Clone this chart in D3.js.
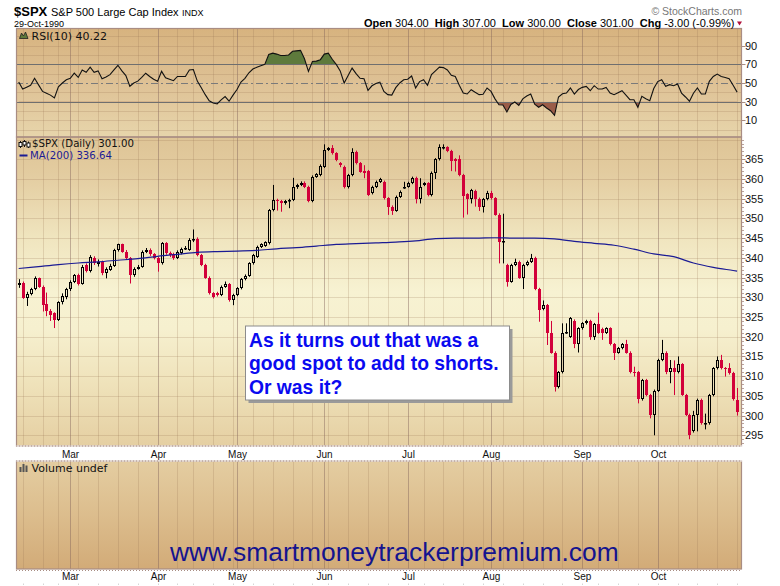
<!DOCTYPE html>
<html><head><meta charset="utf-8">
<script src="https://cdn.jsdelivr.net/npm/d3@7"></script>
<style>body{margin:0;background:#fff}svg{display:block}</style>
</head><body><svg id="c" width="780" height="586"></svg>
<script>
// ---------- DATA ----------
const startDate = "1990-02-09", endDate = "1990-10-29";
const holidays = ["1990-02-19","1990-04-13","1990-05-28","1990-07-04","1990-09-03"];

const opens = [
333.0,333.6,329.9,330.9,332.1,334.8,332.7,328.4,326.5,325.9,
324.2,328.8,330.0,332.1,334.0,335.7,333.5,338.2,336.7,340.0,
338.4,339.0,336.1,337.0,338.0,342.0,343.4,341.6,339.9,335.7,
337.3,337.8,341.6,342.0,340.9,340.0,338.6,343.7,341.2,341.0,
340.0,341.2,342.3,342.0,344.5,344.8,340.7,338.2,335.0,331.0,
331.0,330.6,332.7,333.3,329.2,330.6,332.3,334.6,335.5,338.6,
340.3,342.8,343.1,343.7,352.1,354.7,354.4,353.8,354.4,354.7,
358.0,358.5,359.1,358.0,354.4,360.6,361.0,363.1,367.4,367.8,
366.5,364.0,363.1,357.9,361.0,366.9,364.0,362.0,362.0,356.4,
358.0,359.3,359.3,355.1,353.0,352.0,355.5,357.8,358.1,359.0,
360.3,354.9,358.5,358.9,355.9,361.6,365.0,367.8,368.0,367.1,
365.0,365.0,361.0,356.1,355.0,357.0,355.0,353.0,354.9,356.4,
355.1,351.0,343.9,338.2,334.0,338.2,339.0,335.0,338.2,339.0,
340.0,332.1,327.0,328.0,321.0,316.0,307.2,311.0,321.0,320.0,
324.1,318.1,322.1,323.4,324.0,320.0,323.2,322.0,321.0,322.1,
318.1,316.0,317.1,318.1,316.0,311.0,311.0,304.1,309.0,305.2,
300.2,306.3,314.1,316.0,311.0,312.0,311.0,313.0,305.2,300.2,
296.0,300.2,304.0,298.0,298.0,305.2,312.0,314.1,312.0,312.0,
310.8,304.0];
const highs = [
334.6,334.0,331.4,332.4,335.3,335.0,333.0,331.2,327.0,326.2,
329.0,331.0,332.4,334.3,335.9,336.0,338.2,338.6,340.7,340.4,
339.6,339.3,337.6,338.5,342.3,343.6,343.6,342.0,340.2,337.6,
338.2,341.9,342.5,342.4,341.2,340.3,344.0,344.0,341.6,341.3,
341.9,342.6,343.0,345.0,347.2,345.2,341.0,338.5,335.3,331.3,
331.4,333.0,334.0,333.6,330.9,332.6,334.9,335.8,338.9,341.0,
343.1,343.7,344.2,352.4,358.5,355.0,354.7,354.7,355.0,360.3,
358.8,359.4,359.4,358.3,360.9,361.5,363.7,368.8,368.1,368.6,
366.8,364.3,363.4,361.3,367.8,367.2,364.3,363.5,362.3,358.3,
359.6,360.3,359.6,355.4,353.3,355.8,357.1,359.3,359.3,360.6,
360.6,360.2,359.2,359.2,361.9,365.3,368.8,368.8,368.3,367.4,
365.3,366.0,361.3,356.4,357.5,357.3,355.3,355.2,357.0,357.0,
355.4,351.3,351.2,338.5,338.5,339.8,339.3,338.5,339.3,341.0,
340.3,332.4,329.2,328.3,324.0,316.3,311.3,323.4,323.4,325.0,
324.4,322.4,323.7,324.3,324.3,323.5,326.1,322.3,322.4,322.4,
318.4,317.4,318.4,319.2,316.3,312.4,311.3,309.3,309.3,305.5,
306.6,314.4,319.2,316.3,314.1,314.0,315.0,313.3,305.5,300.5,
301.2,304.3,304.3,300.5,305.5,312.3,315.0,315.4,312.3,313.3,
311.1,307.0];
const lows = [
332.4,329.6,327.8,330.5,331.8,332.4,326.4,325.2,324.0,322.2,
324.0,328.2,329.5,331.6,333.6,333.0,333.2,336.3,336.3,338.2,
337.8,335.6,334.8,336.7,337.7,341.6,341.3,339.5,333.5,335.2,
337.0,337.5,341.2,340.5,339.6,336.5,338.3,340.8,340.2,339.5,
339.7,340.9,342.0,341.8,344.0,340.4,337.9,334.7,330.7,329.7,
330.2,330.3,332.4,328.9,328.0,330.3,332.0,334.3,335.2,338.3,
340.0,342.5,342.8,343.4,351.8,352.0,351.7,353.5,352.6,354.4,
357.5,358.2,357.7,354.1,354.1,360.3,360.7,362.8,367.1,366.2,
364.5,363.0,357.6,357.6,360.7,363.7,361.6,360.2,355.7,356.1,
357.7,359.0,354.8,350.9,350.9,351.7,355.2,357.5,357.8,358.7,
353.8,353.8,358.2,355.6,355.6,360.0,364.7,367.5,366.8,362.0,
361.9,360.7,350.2,351.0,353.8,353.0,351.9,351.5,354.6,354.8,
350.7,338.6,338.6,332.7,333.7,337.9,334.7,332.1,337.9,338.7,
331.8,323.8,326.7,317.9,315.7,306.1,306.9,310.7,320.7,319.7,
317.1,316.0,321.8,323.1,319.2,319.2,320.7,319.2,320.7,317.8,
314.1,315.7,316.8,315.7,310.7,309.9,303.1,303.8,304.9,299.3,
295.0,306.0,313.8,310.5,308.2,305.2,310.7,305.0,299.9,294.0,
295.7,296.0,297.7,296.5,297.7,304.9,311.7,311.7,309.9,310.4,
303.8,300.0];
const closes = [
333.6,329.9,330.9,332.1,334.8,332.7,328.0,326.5,325.6,324.2,
328.8,330.4,332.1,334.0,335.7,333.5,337.8,336.7,340.1,338.6,
339.0,336.1,337.2,338.0,342.0,343.4,341.6,339.9,335.7,337.3,
337.8,341.6,342.0,340.9,340.0,338.6,343.7,341.2,340.7,340.0,
341.6,342.3,342.6,344.5,344.8,340.7,338.2,335.0,331.0,330.2,
330.6,332.7,333.5,329.2,330.6,332.3,334.6,335.5,338.6,340.7,
342.8,343.4,343.9,352.1,354.7,354.3,353.8,354.4,354.7,358.0,
358.5,359.1,358.0,354.4,360.6,361.2,363.4,367.4,367.8,366.5,
364.8,363.5,357.9,361.0,366.9,364.0,361.9,361.5,356.0,358.0,
359.3,360.0,355.1,353.0,352.0,355.5,356.8,358.1,359.0,360.3,
354.9,357.9,358.9,355.9,361.6,365.0,368.0,368.1,367.1,364.6,
364.5,361.0,355.7,355.0,357.2,355.0,353.0,354.9,356.4,355.1,
351.0,343.9,344.3,334.0,338.2,339.0,335.0,338.2,339.0,340.0,
332.1,326.8,328.0,321.0,316.0,307.2,311.0,321.0,321.2,324.7,
318.1,322.1,323.4,324.0,320.0,323.2,321.0,321.0,322.1,318.1,
316.0,317.1,318.1,316.0,311.0,310.8,304.1,309.0,305.2,300.2,
306.3,314.1,316.0,311.0,312.0,311.0,313.0,305.2,300.2,295.1,
300.2,304.0,298.0,298.2,305.2,312.0,314.1,312.0,311.8,310.7,
304.1,301.0];
const rsiValues = [
51,43.5,45.5,47.5,55,48,41,39,37,34,
46,50,53.5,55,60.5,56,64,61.5,67,61.5,
63,54.5,56.5,59,64,69,63,58,46.5,50,
52,56,60.5,57,54,52,62.5,55.5,54,52.5,
57,57,57,64,64.5,52,45,37.5,31,28.5,
27.5,32,35.5,30.5,37,43,51,55,61,65,
67,68.5,70,80.5,82,81,79.5,79.5,80,84,
84.5,85,76,62.5,73,73.5,75,81,82,75.5,
70,63,50,58,66,60,55,54.5,42,47,
49.5,51,41,37.5,37,45,50,53.5,54,57.5,
44.6,51.5,53.5,47.5,59,63,67,66.5,64,58.2,
57,47.5,39.2,38.2,42.8,40,37.5,38,44.6,41,
33,26.7,26.5,19,27,29.6,26,33,36,38.2,
27.4,24,26.7,23.2,20.3,15.3,35,38.5,39.2,44.6,
38.2,43,45.3,46.4,41.7,47.1,43.5,43.5,45.3,39.2,
37.4,39.5,41.7,37,32.1,32,23.9,35.7,33.2,31,
44,51.5,53.5,46.4,48.2,47.1,48.9,39.2,35,30.5,
39,44.6,38.2,38.2,51.8,57,59.6,57,56,54.6,
47.5,40.22];
// 200-day moving average read at sampled trading-day positions
const maIndex  = [0,5,10,15,20,25,30,35,40,45,50,55,60,65,70,75,80,85,90,95,100,105,110,115,120,125,130,135,140,145,150,155,160,165,170,175,180,181];
const maValues = [337.3,337.8,338.3,338.7,339.0,339.4,339.8,340.4,340.9,341.4,341.6,341.7,341.9,342.3,342.6,343.0,343.4,343.6,343.8,344.0,344.3,344.9,345.0,345.0,345.1,345.0,345.0,344.8,344.2,343.7,343.2,342.2,341.0,340.3,338.7,337.6,336.8,336.64];
const priceTicks = [295,300,305,310,315,320,325,330,335,340,345,350,355,360,365];
const priceGrid = [295,300,305,310,315,320,325,330,335,340,345,350,355,360,365,370];
const rsiTicks = [10,30,50,70,90];
const rsiGrid = [0,10,20,30,40,50,60,70,80,90,100];
const monthNames = ["Jan","Feb","Mar","Apr","May","Jun","Jul","Aug","Sep","Oct","Nov","Dec"];

// ---------- CALENDAR ----------
const parse = d3.utcParse("%Y-%m-%d"), fmt = d3.utcFormat("%Y-%m-%d");
const hol = new Set(holidays);
const dates = d3.utcDay.range(parse(startDate), d3.utcDay.offset(parse(endDate),1))
  .filter(d => d.getUTCDay()!==0 && d.getUTCDay()!==6 && !hol.has(fmt(d)));
const N = dates.length;
const monthStarts = [], weekStarts = [];
dates.forEach((d,i)=>{
  if(i===0) return;
  const p = dates[i-1];
  if(d.getUTCMonth()!==p.getUTCMonth()) monthStarts.push(i);
  if(+d3.utcMonday.floor(d)!==+d3.utcMonday.floor(p)) weekStarts.push(i);
});

// ---------- LAYOUT ----------
const L=16, R=742;
const rsiTop=28.5, rsiBot=137, prTop=137, prBot=446, volTop=461, volBot=569;
const x = d3.scaleLinear().domain([0,N-1]).range([18.7,737.1]);
const yP = d3.scaleLinear().domain([295,365]).range([435.3,159.3]);
const yR = d3.scaleLinear().domain([10,90]).range([120.3,45.7]);
const cxOf = i => Math.round(x(i))+0.5;

const svg = d3.select("#c");
const defs = svg.append("defs");
function grad(id, stops){
  const g = defs.append("linearGradient").attr("id",id).attr("x1",0).attr("y1",0).attr("x2",0).attr("y2",1);
  stops.forEach(s=>g.append("stop").attr("offset",s[0]).attr("stop-color",s[1]));
}
grad("gR",[[0,"#d7b37f"],[0.5,"#dec195"],[1,"#e7d5ab"]]);
grad("gP",[[0,"#dec496"],[0.12,"#e3cca0"],[0.33,"#f0e5bf"],[0.5,"#f7f2d2"],[0.62,"#f6f0cf"],[0.8,"#efe2ba"],[1,"#e5cfa2"]]);
grad("gV",[[0,"#e4cda1"],[0.5,"#dcbd8d"],[1,"#d2ab78"]]);
defs.append("clipPath").attr("id","cR").append("rect").attr("x",L).attr("y",rsiTop).attr("width",R-L).attr("height",rsiBot-rsiTop);
defs.append("clipPath").attr("id","cP").append("rect").attr("x",L).attr("y",prTop).attr("width",R-L).attr("height",prBot-prTop);
defs.append("clipPath").attr("id","above70").append("rect").attr("x",L).attr("y",rsiTop).attr("width",R-L).attr("height",yR(70)-rsiTop);
defs.append("clipPath").attr("id","below30").append("rect").attr("x",L).attr("y",yR(30)).attr("width",R-L).attr("height",rsiBot-yR(30));

const border = "#a98d83";
const minorC = "rgba(150,115,80,0.22)", majorC = "rgba(130,100,90,0.45)";

// panel backgrounds
svg.append("rect").attr("x",L).attr("y",rsiTop).attr("width",R-L).attr("height",rsiBot-rsiTop).attr("fill","url(#gR)");
svg.append("rect").attr("x",L).attr("y",prTop).attr("width",R-L).attr("height",prBot-prTop).attr("fill","url(#gP)");
svg.append("rect").attr("x",L).attr("y",volTop).attr("width",R-L).attr("height",volBot-volTop).attr("fill","url(#gV)");

// vertical grids
function vgrid(top,bot){
  const g = svg.append("g");
  g.selectAll(".w").data(weekStarts.filter(i=>!monthStarts.includes(i))).join("line")
    .attr("x1",i=>cxOf(i)).attr("x2",i=>cxOf(i)).attr("y1",top).attr("y2",bot).attr("stroke",minorC);
  g.selectAll(".m").data(monthStarts).join("line")
    .attr("x1",i=>cxOf(i)).attr("x2",i=>cxOf(i)).attr("y1",top).attr("y2",bot).attr("stroke",majorC);
}
vgrid(rsiTop,rsiBot); vgrid(prTop,prBot); vgrid(volTop,volBot);

// horizontal grids
svg.append("g").selectAll("line").data(priceGrid.filter(v=>yP(v)>prTop+1)).join("line")
  .attr("x1",L).attr("x2",R).attr("y1",v=>Math.round(yP(v))+0.5).attr("y2",v=>Math.round(yP(v))+0.5).attr("stroke",minorC);
svg.append("g").selectAll("line").data(rsiGrid.filter(v=>yR(v)>rsiTop+1&&yR(v)<rsiBot-1&&v!==30&&v!==50&&v!==70)).join("line")
  .attr("x1",L).attr("x2",R).attr("y1",v=>Math.round(yR(v))+0.5).attr("y2",v=>Math.round(yR(v))+0.5).attr("stroke",minorC);

// RSI fills and reference lines
const rsiG = svg.append("g").attr("clip-path","url(#cR)");
rsiG.append("path").datum(rsiValues).attr("clip-path","url(#above70)")
  .attr("d",d3.area().x((d,i)=>x(i)).y0(yR(70)).y1(d=>yR(d))).attr("fill","#5e7a3c");
rsiG.append("path").datum(rsiValues).attr("clip-path","url(#below30)")
  .attr("d",d3.area().x((d,i)=>x(i)).y0(yR(30)).y1(d=>yR(d))).attr("fill","#9a5c48");
[70,30].forEach(v=>rsiG.append("line").attr("x1",L).attr("x2",R).attr("y1",Math.round(yR(v))+0.5).attr("y2",Math.round(yR(v))+0.5).attr("stroke","#6f6f6f"));
rsiG.append("line").attr("x1",L).attr("x2",R).attr("y1",Math.round(yR(50))+0.5).attr("y2",Math.round(yR(50))+0.5)
  .attr("stroke","#7a7a7a").attr("stroke-dasharray","7,3,2,3");
rsiG.append("path").datum(rsiValues).attr("d",d3.line().x((d,i)=>x(i)).y(d=>yR(d)))
  .attr("fill","none").attr("stroke","#111").attr("stroke-width",1.1);

// Candles
const red = "#d2003a";
const cg = svg.append("g").attr("clip-path","url(#cP)");
d3.range(N).forEach(i=>{
  const o=opens[i], h=highs[i], l=lows[i], c=closes[i];
  const cx = cxOf(i), up = c>=o;
  const col = up ? "#000" : red;
  const yt = Math.round(yP(Math.max(o,c))), yb = Math.max(Math.round(yP(Math.min(o,c))), yt+1);
  if(up){
    cg.append("line").attr("x1",cx).attr("x2",cx).attr("y1",yP(h)).attr("y2",yt).attr("stroke",col);
    cg.append("line").attr("x1",cx).attr("x2",cx).attr("y1",yb).attr("y2",yP(l)).attr("stroke",col);
    cg.append("rect").attr("x",cx-1).attr("y",yt+0.5).attr("width",2).attr("height",Math.max(yb-yt-1,0.5))
      .attr("fill","none").attr("stroke",col);
  } else {
    cg.append("line").attr("x1",cx).attr("x2",cx).attr("y1",yP(h)).attr("y2",yP(l)).attr("stroke",col);
    cg.append("rect").attr("x",cx-1.5).attr("y",yt).attr("width",3).attr("height",yb-yt).attr("fill",col);
  }
});
// MA(200)
cg.append("path").datum(maIndex.map((k,j)=>[k,maValues[j]]))
  .attr("d",d3.line().x(d=>x(d[0])).y(d=>yP(d[1])).curve(d3.curveMonotoneX))
  .attr("fill","none").attr("stroke","#1b1b94").attr("stroke-width",1.2);

// panel borders
[[rsiTop,rsiBot],[prTop,prBot],[volTop,volBot]].forEach(([t,b])=>{
  svg.append("rect").attr("x",L+0.5).attr("y",t).attr("width",R-L-1).attr("height",b-t)
    .attr("fill","none").attr("stroke",border).attr("stroke-width",1.2);
});
// dotted edges
[[prBot,L,R],[volTop,L,R],[volBot+1.5,L,R]].forEach(([yy,a,b])=>{
  svg.append("line").attr("x1",a).attr("x2",b).attr("y1",yy).attr("y2",yy).attr("stroke","#fff").attr("stroke-width",1.2);
  svg.append("line").attr("x1",a).attr("x2",b).attr("y1",yy).attr("y2",yy).attr("stroke",border).attr("stroke-width",1.2).attr("stroke-dasharray","1,2");
});
// right edge minor ticks
svg.append("g").selectAll("line").data(d3.range(293,371)).join("line")
  .attr("x1",R).attr("x2",R+2).attr("y1",v=>Math.round(yP(v))+0.5).attr("y2",v=>Math.round(yP(v))+0.5)
  .attr("stroke",border).attr("opacity",0.8);
svg.append("g").selectAll("line").data(priceTicks).join("line")
  .attr("x1",R).attr("x2",R+3.5).attr("y1",v=>Math.round(yP(v))+0.5).attr("y2",v=>Math.round(yP(v))+0.5).attr("stroke",border);
svg.append("g").selectAll("line").data(rsiTicks).join("line")
  .attr("x1",R).attr("x2",R+3.5).attr("y1",v=>Math.round(yR(v))+0.5).attr("y2",v=>Math.round(yR(v))+0.5).attr("stroke",border);

// axis labels
const axFont = "Liberation Sans, Arial, sans-serif";
svg.append("g").selectAll("text").data(priceTicks).join("text")
  .attr("x",745).attr("y",v=>yP(v)+4).text(v=>v)
  .attr("font-family",axFont).attr("font-size",11).attr("fill","#111");
svg.append("g").selectAll("text").data(rsiTicks).join("text")
  .attr("x",745).attr("y",v=>yR(v)+4).text(v=>v)
  .attr("font-family",axFont).attr("font-size",11).attr("fill","#111");
[458,580].forEach(yy=>{
  svg.append("g").selectAll("text").data(monthStarts).join("text")
    .attr("x",i=>cxOf(i)).attr("y",yy).attr("text-anchor","middle").text(i=>monthNames[dates[i].getUTCMonth()])
    .attr("font-family",axFont).attr("font-size",10).attr("fill","#111");
});
svg.append("g").selectAll("line").data(weekStarts).join("line")
  .attr("x1",i=>cxOf(i)).attr("x2",i=>cxOf(i)).attr("y1",583.5).attr("y2",585).attr("stroke","#d6d6d6");

// legends
const lgFont = "DejaVu Sans, Verdana, sans-serif";
// RSI icon
svg.append("path").attr("d","M19.5,38.5 L21.5,33 L23.5,36 L25.5,32 L28,38.5 Z").attr("fill","#5e7a3c").attr("stroke","#222").attr("stroke-width",0.8);
svg.append("text").attr("x",31.5).attr("y",39.5).text("RSI(10) 40.22").attr("font-family",lgFont).attr("font-size",11).attr("fill","#111");
// price icon
const pic = svg.append("g").attr("stroke","#111").attr("stroke-width",1);
[[20.5,141,148,142.5,146.5],[24.5,140,147,141.5,145],[28.5,141.5,148,143,147]].forEach(([xx,a,b,c,d])=>{
  pic.append("line").attr("x1",xx).attr("x2",xx).attr("y1",a).attr("y2",b);
  pic.append("rect").attr("x",xx-1.5).attr("y",c).attr("width",3).attr("height",d-c).attr("fill","#fff");
});
svg.append("text").attr("x",32).attr("y",147).text("$SPX (Daily) 301.00").attr("font-family",lgFont).attr("font-size",10.2).attr("fill","#111");
svg.append("line").attr("x1",19.5).attr("x2",27.5).attr("y1",155.5).attr("y2",155.5).attr("stroke","#1b1b94").attr("stroke-width",2);
svg.append("text").attr("x",30).attr("y",159).text("MA(200) 336.64").attr("font-family",lgFont).attr("font-size",10.2).attr("fill","#1b1b94");
// volume icon
[[19.5,467],[22.5,464],[25.5,465.5]].forEach(([xx,t])=>svg.append("rect").attr("x",xx).attr("y",t).attr("width",2).attr("height",472-t).attr("fill","#555"));
svg.append("text").attr("x",31.5).attr("y",471.5).text("Volume undef").attr("font-family",lgFont).attr("font-size",11).attr("fill","#111");

// header
const hf = "Liberation Sans, Arial, sans-serif";
svg.append("text").attr("x",14).attr("y",16).attr("font-family",hf).attr("font-size",13).attr("font-weight","bold").text("$SPX");
svg.append("text").attr("x",51).attr("y",16).attr("font-family",hf).attr("font-size",11).text("S&P 500 Large Cap Index");
svg.append("text").attr("x",182).attr("y",16).attr("font-family",hf).attr("font-size",9).text("INDX");
svg.append("text").attr("x",14).attr("y",27).attr("font-family",hf).attr("font-size",9).text("29-Oct-1990");
svg.append("text").attr("x",742).attr("y",15).attr("text-anchor","end").attr("font-family",hf).attr("font-size",10.5).attr("fill","#777").text("© StockCharts.com");
const hr = svg.append("text").attr("x",734.5).attr("y",26.5).attr("text-anchor","end").attr("font-family",hf).attr("font-size",11).attr("fill","#000").attr("style","white-space:pre");
[["Open"," 304.00  "],["High"," 307.00  "],["Low"," 300.00  "],["Close"," 301.00  "],["Chg"," -3.00 (-0.99%)"]].forEach(([k,v])=>{
  hr.append("tspan").attr("font-weight","bold").text(k);
  hr.append("tspan").text(v);
});
svg.append("path").attr("d","M737,21.5 L742,21.5 L739.5,25.5 Z").attr("fill","#b0103a");

// annotation box
svg.append("rect").attr("x",248.5).attr("y",329).attr("width",264).attr("height",74).attr("fill","#9a9a9a");
svg.append("rect").attr("x",245.5).attr("y",326).attr("width",264).attr("height",74).attr("fill","#fff").attr("stroke","#8c8c8c");
const ann = ["As it turns out that was a","good spot to add to shorts.","Or was it?"];
svg.append("g").selectAll("text").data(ann).join("text")
  .attr("x",249).attr("y",(d,i)=>347+i*23.3).text(d=>d)
  .attr("font-family",hf).attr("font-weight","bold").attr("font-size",19.3).attr("fill","#0a0af0");

// watermark
svg.append("text").attr("x",170).attr("y",560.5).text("www.smartmoneytrackerpremium.com")
  .attr("font-family",hf).attr("font-size",26.4).attr("fill","#14148f");
</script></body></html>
